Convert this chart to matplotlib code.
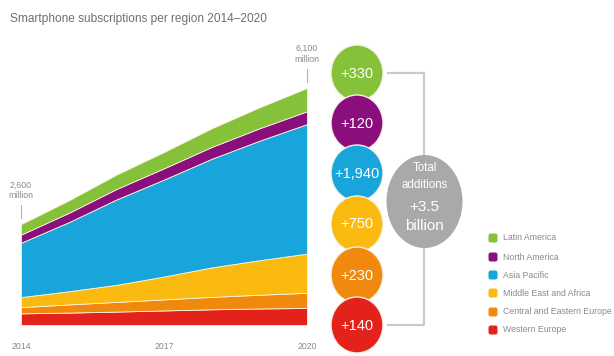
import matplotlib
matplotlib.use("Agg")
import matplotlib.pyplot as plt
from matplotlib.patches import Ellipse, FancyBboxPatch
import numpy as np

plt.rcParams['font.family'] = ['Liberation Sans', 'DejaVu Sans']

# ---- data (million subscriptions) ----
years = [2014, 2015, 2016, 2017, 2018, 2019, 2020]
regions = ["Western Europe", "Central and Eastern Europe", "Middle East and Africa",
           "Asia Pacific", "North America", "Latin America"]
western_europe = [300, 320, 345, 375, 405, 425, 440]
central_eastern_europe = [160, 210, 250, 285, 320, 355, 390]
middle_east_africa = [260, 340, 440, 590, 760, 890, 1010]
asia_pacific = [1400, 1780, 2200, 2500, 2800, 3080, 3340]
north_america = [210, 240, 270, 290, 305, 320, 330]
latin_america = [270, 320, 370, 420, 480, 540, 600]
series = [western_europe, central_eastern_europe, middle_east_africa,
          asia_pacific, north_america, latin_america]
colors = ["#e3221b", "#f0890e", "#fbba10", "#18a5dc", "#8a0f7c", "#86c13a"]
title = "Smartphone subscriptions per region 2014\u20132020"
tick_years = [2014, 2017, 2020]
start_label = "2,600"
end_label = "6,100"

W, H = 614, 356
fig = plt.figure(figsize=(W / 100, H / 100), dpi=100)
fig.patch.set_facecolor("white")

# main stacked area axes (pixel frame: x 21..307, y 88..325)
ax = fig.add_axes([21 / W, (H - 325) / H, (307 - 21) / W, (325 - 88) / H])
ax.stackplot(years, *series, colors=colors, edgecolor="#fbf3dc", linewidth=0.6)
ymax = 6110
ax.set_xlim(years[0], years[-1])
ax.set_ylim(0, ymax)
for s in ax.spines.values():
    s.set_visible(False)
ax.set_yticks([])
ax.set_xticks(tick_years)
ax.set_xticklabels([str(y) for y in tick_years])
ax.tick_params(axis="x", length=0, pad=12, labelsize=6.3, labelcolor="#8a8a8a")

dpp = ymax / (325 - 88)  # data units per pixel
tot = np.sum(np.array(series), axis=0)
for x, t, lab in [(years[0], tot[0], start_label), (years[-1], tot[-1], end_label)]:
    ax.plot([x, x], [t + 6 * dpp, t + 19 * dpp], color="#b5b5b5", lw=0.8, clip_on=False)
    ax.text(x, t + 24 * dpp, lab + "\nmillion", ha="center", va="bottom",
            fontsize=6.3, color="#8a8a8a", linespacing=1.25)

fig.text(10 / W, 1 - 19 / H, title, fontsize=8.6, color="#6e6e6e", va="center", ha="left")

# overlay in pixel coordinates for circles and legend
ov = fig.add_axes([0, 0, 1, 1])
ov.set_xlim(0, W)
ov.set_ylim(H, 0)
ov.axis("off")
ov.patch.set_visible(False)

# bracket
bc = "#c9c9c9"
ov.plot([387, 424, 424], [73, 73, 156], color=bc, lw=1.6, solid_capstyle="butt")
ov.plot([387, 424, 424], [325, 325, 247], color=bc, lw=1.6, solid_capstyle="butt")

# addition circles (top = Latin America ... bottom = Western Europe)
adds = [s[-1] - s[0] for s in series]
cy = [325, 275, 224, 173, 123, 73]
for i in range(len(series)):
    ov.add_patch(Ellipse((357, cy[i]), 52, 56, facecolor=colors[i], edgecolor="#f4f1e6",
                         lw=1.0, zorder=10 + (len(series) - i)))
    ov.text(357, cy[i] + 0.5, "+{:,}".format(adds[i]), ha="center", va="center",
            fontsize=10.5, color="white", zorder=30)

# total circle
ov.add_patch(Ellipse((424.5, 201.5), 76, 93, facecolor="#a9a9a9", edgecolor="none", zorder=3))
total_b = sum(adds) / 1000
ov.text(424.5, 168, "Total", ha="center", va="center", fontsize=8.3, color="white", zorder=20)
ov.text(424.5, 185, "additions", ha="center", va="center", fontsize=8.3, color="white", zorder=20)
ov.text(424.5, 207, "+{:.1f}".format(total_b), ha="center", va="center", fontsize=11,
        color="white", zorder=20)
ov.text(424.5, 226, "billion", ha="center", va="center", fontsize=11, color="white", zorder=20)

# legend
ly = [330, 312, 293, 275, 257, 238]
for i in range(len(series)):
    ov.add_patch(FancyBboxPatch((488.5, ly[i] - 4.5), 9, 9,
                                boxstyle="round,pad=0,rounding_size=2.2",
                                facecolor=colors[i], edgecolor="none"))
    ov.text(503, ly[i], regions[i], ha="left", va="center", fontsize=6.3, color="#8a8a8a")

fig.savefig("out.png", dpi=100, facecolor="white")
